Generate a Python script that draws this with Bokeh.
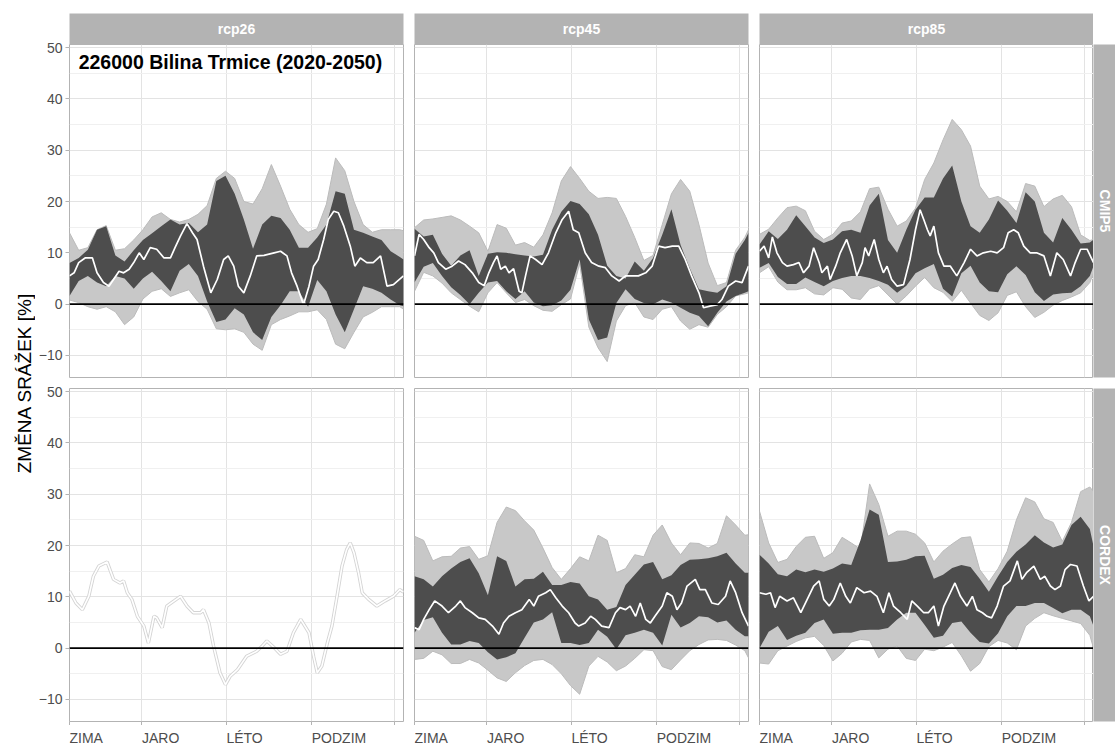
from math import pi
from bokeh.plotting import figure
from bokeh.models import Range1d, FixedTicker, LinearAxis, Span, Label, Spacer, ColumnDataSource
from bokeh.layouts import row, column
from bokeh.embed import file_html
from bokeh.resources import INLINE
from bokeh.core.properties import value

# ---------------- data ----------------
# day of year of the ribbon samples
days = [1, 11, 21, 31, 41, 51, 61, 71, 81, 91, 101, 111, 121, 131, 141, 151, 161, 171, 181,
        191, 201, 211, 221, 231, 241, 251, 261, 271, 281, 291, 301, 311, 321, 331, 341, 351, 361, 365]

season_ticks = [1, 80, 172, 265, 355]
season_labels = ["ZIMA", "JARO", "LÉTO", "PODZIM", ""]
y_ticks = [-10, 0, 10, 20, 30, 40, 50]
y_minor = [-15, -5, 5, 15, 25, 35, 45]

scenarios = ["rcp26", "rcp45", "rcp85"]
ensembles = ["CMIP5", "CORDEX"]
title_text = "226000 Bilina Trmice (2020-2050)"
y_title = "ZMĚNA SRÁŽEK [%]"

# --- CMIP5 rcp26
cmip5_rcp26_max = [13.9, 10.5, 11.0, 14.5, 15.3, 10.5, 10.8, 12.5, 14.5, 17.0, 17.8, 16.5, 16.0, 16.5, 17.5, 19.2, 24.5, 25.9, 24.5,
                   20.0, 19.5, 22.5, 27.2, 23.0, 18.5, 15.5, 14.0, 14.7, 19.5, 28.5, 26.0, 20.0, 15.5, 14.0, 14.5, 14.5, 14.5, 14.3]
cmip5_rcp26_q75 = [8.0, 9.0, 10.6, 14.5, 15.2, 9.5, 8.3, 10.5, 12.5, 13.8, 15.2, 16.5, 15.5, 15.8, 14.0, 15.5, 24.0, 25.0, 21.5,
                   16.5, 10.8, 15.5, 17.2, 16.8, 14.5, 11.0, 11.0, 13.0, 15.5, 22.0, 21.5, 14.5, 13.9, 13.2, 12.5, 10.3, 9.2, 8.7]
cmip5_rcp26_q25 = [1.6, 4.5, 5.5, 4.2, 3.5, 5.5, 5.0, 3.0, 5.0, 6.3, 4.5, 2.5, 6.5, 7.8, 5.5, 0.5, -3.5, -3.0, -0.8,
                   -2.0, -5.5, -7.0, -2.5, -0.2, 2.5, 2.5, -0.5, 4.7, 2.5, -2.0, -5.5, -1.0, 3.5, 3.0, 2.2, 0.9, -0.2, -0.4]
cmip5_rcp26_min = [0.8, 0.3, -0.5, -1.0, -0.5, -1.5, -4.0, -2.5, 1.0, 2.5, 3.0, 1.5, 2.2, 2.8, 0.5, -1.0, -4.8, -5.0, -4.8,
                   -5.5, -7.8, -9.0, -4.0, -3.0, -2.3, -1.5, -1.5, -1.1, -3.0, -7.8, -8.7, -5.5, -2.5, -1.6, -0.5, -0.5, -0.5, -1.0]
cmip5_rcp26_med_days = [1, 6, 11, 18, 26, 31, 38, 44, 49, 55, 60, 66, 71, 77, 82, 89, 96, 104, 111, 116, 122, 129, 135, 140, 147,
                        155, 162, 169, 174, 180, 185, 191, 198, 205, 213, 224, 231, 238, 243, 249, 256, 262, 267, 272, 278, 283,
                        289, 294, 300, 307, 312, 318, 325, 332, 340, 347, 354, 365]
cmip5_rcp26_med = [5.5, 6.1, 8.1, 9.0, 9.0, 6.1, 4.2, 3.5, 4.8, 6.4, 6.1, 6.8, 8.1, 10.0, 8.7, 11.0, 10.7, 9.0, 9.0, 11.0, 13.3,
                   15.7, 13.9, 12.6, 7.4, 2.2, 4.8, 8.7, 9.4, 7.4, 3.5, 2.2, 5.5, 9.4, 9.5, 10.0, 10.3, 9.4, 6.1, 3.5, -0.1, 3.5,
                   7.4, 8.7, 12.6, 16.5, 18.1, 17.8, 15.2, 11.3, 7.4, 9.0, 8.1, 8.1, 9.4, 3.5, 3.8, 5.5]

# --- CMIP5 rcp45
cmip5_rcp45_max = [14.9, 16.4, 16.6, 16.9, 17.2, 16.4, 15.2, 13.9, 10.3, 15.5, 14.8, 11.5, 12.0, 11.1, 13.5, 17.8, 24.0, 26.8, 24.5,
                   22.0, 20.6, 20.8, 20.6, 17.1, 13.0, 8.5, 9.5, 15.5, 21.5, 24.3, 22.0, 15.5, 8.0, 3.6, 4.2, 10.5, 13.0, 14.5]
cmip5_rcp45_q75 = [14.7, 13.2, 13.5, 9.8, 7.5, 9.5, 10.5, 5.5, 9.8, 10.1, 10.0, 9.7, 9.5, 9.3, 9.6, 14.5, 18.0, 20.1, 19.5,
                   17.5, 13.5, 7.5, 5.5, 5.0, 8.3, 6.5, 9.0, 13.5, 18.5, 11.5, 7.0, 2.9, 2.5, 2.2, 3.5, 9.8, 12.5, 13.9]
cmip5_rcp45_q25 = [4.2, 7.3, 8.0, 5.5, 3.3, 1.8, 0.0, 2.2, 4.2, 4.5, 2.5, 1.0, 2.5, 0.3, -0.4, -0.2, 0.7, 2.8, 8.7,
                   -3.0, -7.0, -6.5, 0.2, 2.9, 1.0, 0.2, 0.0, 0.9, 0.3, -0.7, -1.7, -2.3, -4.3, -1.7, 0.5, 1.6, 2.2, 2.5]
cmip5_rcp45_min = [2.5, 6.2, 5.5, 4.1, 2.2, 0.9, -0.4, -1.5, 2.2, 4.2, 2.2, 0.3, 0.9, -0.3, -1.2, -1.4, -0.1, 1.0, 7.9,
                   -4.5, -8.5, -11.2, -3.3, -0.3, 0.3, -2.5, -3.0, -1.0, -0.5, -3.3, -4.9, -4.0, -4.5, -2.0, -0.5, 1.6, 2.0, 2.2]
cmip5_rcp45_med_days = [1, 6, 11, 17, 22, 27, 35, 42, 49, 56, 64, 71, 77, 82, 87, 91, 95, 100, 104, 109, 115, 118, 122, 127, 133,
                        140, 147, 155, 162, 169, 174, 180, 187, 194, 202, 209, 216, 224, 231, 238, 245, 253, 260, 267, 274, 282,
                        289, 296, 303, 311, 316, 323, 331, 336, 343, 351, 358, 365]
cmip5_rcp45_med = [9.4, 13.6, 12.6, 11.0, 10.0, 8.1, 6.8, 7.4, 8.4, 7.7, 6.1, 4.2, 3.6, 6.1, 8.1, 9.4, 6.8, 7.4, 6.1, 6.9, 2.5,
                   2.2, 5.5, 9.4, 8.7, 7.7, 10.0, 13.9, 16.5, 18.1, 14.5, 13.9, 10.0, 8.1, 7.4, 7.1, 5.5, 4.5, 5.5, 5.5, 5.5,
                   6.1, 7.4, 11.3, 11.0, 11.3, 11.3, 8.7, 5.5, 2.2, -0.7, -0.4, -0.1, 0.9, 3.5, 4.5, 4.2, 7.4]

# --- CMIP5 rcp85
cmip5_rcp85_max = [13.6, 14.6, 16.8, 18.8, 19.1, 18.2, 14.2, 12.6, 13.6, 15.8, 16.2, 18.0, 22.5, 22.8, 18.5, 15.2, 16.2, 18.7, 24.3,
                   27.5, 32.0, 36.0, 34.0, 30.8, 23.0, 20.5, 21.0, 20.0, 18.0, 23.5, 23.0, 19.0, 20.5, 21.2, 19.0, 13.5, 12.4, 12.6]
cmip5_rcp85_q75 = [11.6, 14.2, 12.7, 14.5, 17.3, 15.2, 13.0, 11.9, 12.6, 14.2, 14.5, 13.9, 19.2, 21.5, 12.5, 10.0, 14.5, 18.4, 20.8,
                   20.8, 24.5, 27.0, 20.0, 15.2, 13.9, 16.5, 20.2, 18.2, 15.8, 21.8, 20.0, 13.9, 12.0, 16.8, 14.5, 11.8, 12.0, 12.6]
cmip5_rcp85_q25 = [7.1, 8.0, 5.3, 3.9, 3.9, 5.2, 4.3, 3.5, 4.5, 5.1, 5.5, 5.5, 5.1, 4.5, 3.8, 2.2, 3.6, 6.0, 7.0,
                   7.8, 3.0, 1.5, 6.0, 7.5, 4.2, 2.5, 2.3, 5.8, 7.4, 5.7, 2.3, 0.6, 1.9, 2.1, 2.2, 3.5, 5.5, 7.4]
cmip5_rcp85_min = [6.1, 7.3, 4.3, 2.8, 2.8, 3.2, 2.0, 1.8, 3.2, 2.9, 1.2, 0.9, 3.0, 3.6, 1.8, 0.0, 1.6, 3.5, 5.2,
                   3.2, 2.3, 0.5, 2.7, 0.2, -2.2, -3.2, -1.7, 1.7, 2.4, -0.5, -2.6, -1.6, -0.2, 0.7, 1.4, 2.2, 4.2, 6.1]
cmip5_rcp85_med_days = [1, 6, 11, 15, 20, 26, 31, 38, 44, 49, 55, 60, 66, 69, 75, 78, 84, 89, 96, 102, 107, 113, 116, 120, 126,
                        131, 136, 140, 145, 151, 158, 165, 171, 176, 180, 184, 187, 191, 196, 202, 209, 216, 224, 231, 238, 245,
                        253, 260, 267, 272, 278, 283, 289, 296, 303, 311, 318, 325, 332, 340, 345, 351, 358, 365]
cmip5_rcp85_med = [10.3, 11.3, 9.0, 13.1, 10.0, 8.1, 7.4, 7.7, 8.1, 6.1, 7.4, 11.0, 8.1, 6.1, 7.4, 4.8, 7.4, 10.0, 12.6, 9.4,
                   5.5, 8.1, 11.0, 9.4, 12.6, 8.7, 6.1, 7.4, 4.8, 3.5, 3.8, 8.7, 14.5, 18.4, 16.5, 14.5, 13.3, 15.2, 10.0, 7.4,
                   7.4, 5.5, 8.1, 10.7, 9.4, 10.0, 10.3, 10.0, 11.0, 13.9, 14.5, 13.9, 11.3, 10.0, 10.0, 9.4, 5.5, 10.0, 8.7,
                   5.5, 8.1, 10.7, 10.7, 8.1]

# --- CORDEX rcp26 (one series only)
cordex_rcp26_med_days = [1, 8, 15, 22, 27, 33, 42, 49, 56, 60, 64, 69, 75, 82, 87, 93, 96, 102, 107, 115, 122, 129, 136, 144,
                         147, 153, 158, 165, 171, 176, 184, 194, 205, 211, 216, 224, 231, 238, 245, 253, 262, 267, 271, 276,
                         282, 287, 292, 298, 303, 307, 311, 316, 320, 327, 336, 345, 354, 361, 365]
cordex_rcp26_med = [11.1, 8.8, 7.5, 10.1, 14.0, 16.0, 16.8, 13.4, 12.7, 13.1, 10.8, 9.5, 6.2, 4.3, 1.0, 6.2, 5.9, 4.0, 8.2,
                    9.2, 10.1, 8.2, 6.9, 6.9, 7.5, 4.9, 0.4, -4.8, -7.1, -5.5, -4.2, -1.6, -0.6, 0.4, 1.4, 0.1, -1.2, -0.6,
                    3.0, 5.6, 3.0, -1.6, -4.8, -3.5, 1.0, 4.3, 9.5, 16.0, 19.2, 20.5, 18.6, 14.7, 10.8, 9.5, 8.2, 9.2, 10.1,
                    11.4, 10.9]

# --- CORDEX rcp45
cordex_rcp45_max = [21.8, 21.0, 17.0, 17.8, 17.9, 19.5, 19.8, 17.3, 18.0, 24.5, 27.5, 26.8, 24.8, 23.0, 19.5, 15.7, 13.4, 15.5, 17.8,
                    17.0, 22.0, 21.0, 14.7, 15.5, 18.2, 17.8, 22.0, 24.0, 20.5, 18.2, 20.5, 20.4, 19.5, 20.4, 25.8, 24.0, 22.0, 22.1]
cordex_rcp45_q75 = [14.0, 13.4, 12.0, 14.0, 15.5, 16.8, 17.5, 14.6, 10.3, 17.9, 17.0, 12.0, 13.4, 13.5, 14.9, 12.3, 12.3, 12.9, 12.6,
                    10.1, 9.5, 7.5, 8.0, 12.3, 14.3, 16.3, 16.8, 13.4, 14.2, 16.2, 17.2, 17.3, 17.5, 17.9, 18.6, 16.5, 14.7, 14.7]
cordex_rcp45_q25 = [3.0, 5.5, 6.0, 3.0, 0.7, 0.7, 1.4, 1.0, -0.8, -2.2, -1.8, -1.0, 2.0, 5.0, 5.6, 7.0, 1.0, 1.0, 0.6,
                    1.0, 3.6, 2.2, -0.2, 2.5, 3.0, 3.6, 3.0, 0.5, 6.5, 4.0, 4.9, 6.2, 6.0, 5.0, 5.4, 3.6, 2.3, 2.3]
cordex_rcp45_min = [-2.2, -2.0, -0.6, -1.3, -3.0, -3.0, -2.2, -2.9, -4.3, -5.8, -6.5, -4.8, -3.4, -2.4, -2.2, -3.2, -5.0, -7.3, -9.0,
                    -3.5, -1.6, -2.7, -4.4, -3.5, -2.0, -0.3, -0.5, -3.6, -4.2, -2.3, -0.5, 0.7, 1.6, 1.7, 1.5, 0.6, -0.5, -1.9]
cordex_rcp45_med_days = [1, 6, 11, 17, 23, 31, 38, 46, 51, 56, 64, 71, 78, 86, 93, 98, 104, 111, 118, 126, 131, 136, 144, 149,
                         155, 162, 169, 176, 180, 187, 193, 198, 205, 213, 220, 225, 231, 236, 242, 247, 253, 258, 263, 271,
                         276, 282, 287, 292, 298, 307, 312, 318, 325, 332, 340, 345, 351, 358, 365]
cordex_rcp45_med = [4.0, 3.6, 5.6, 7.5, 9.2, 8.2, 6.9, 8.2, 9.2, 7.9, 6.9, 5.9, 5.6, 4.3, 2.7, 4.9, 6.2, 6.9, 7.5, 9.5, 8.2,
                    10.1, 10.8, 11.4, 9.8, 8.2, 6.9, 4.9, 4.3, 4.9, 6.2, 5.6, 4.3, 4.0, 6.9, 7.9, 7.5, 8.2, 6.2, 8.8, 5.6,
                    4.9, 6.2, 8.2, 10.8, 10.1, 7.5, 8.8, 12.1, 13.4, 11.4, 11.4, 8.8, 8.5, 10.1, 13.1, 10.8, 6.9, 4.3]

# --- CORDEX rcp85
cordex_rcp85_max = [26.7, 20.5, 16.7, 17.3, 19.8, 21.6, 21.8, 17.5, 18.6, 21.6, 20.5, 19.3, 32.0, 28.0, 21.8, 22.8, 22.8, 22.2, 20.5,
                    16.8, 18.9, 20.3, 21.5, 21.7, 15.3, 12.9, 15.5, 18.9, 25.0, 29.3, 28.5, 25.2, 24.5, 20.8, 24.5, 30.5, 31.4, 30.5]
cordex_rcp85_q75 = [18.2, 16.5, 14.4, 14.0, 15.3, 14.8, 15.3, 14.9, 15.5, 16.5, 16.2, 21.0, 27.0, 26.0, 16.8, 16.9, 17.2, 17.9, 18.0,
                    13.5, 14.3, 15.6, 16.2, 15.8, 13.5, 11.0, 14.0, 16.8, 18.8, 20.2, 22.0, 20.6, 19.6, 20.2, 24.0, 25.6, 23.2, 19.9]
cordex_rcp85_q25 = [0.0, 3.2, 4.3, 1.6, 2.4, 3.0, 4.9, 5.6, 2.8, 3.0, 3.0, 3.5, 3.6, 3.6, 3.9, 5.6, 6.9, 6.9, 4.5,
                    2.0, 2.4, 4.9, 5.2, 3.0, 1.2, 0.9, 2.9, 6.2, 8.2, 8.2, 8.8, 8.8, 7.8, 6.8, 7.5, 7.5, 6.2, 4.3]
cordex_rcp85_min = [-2.9, -3.1, -0.5, 0.4, 1.3, 2.0, 2.3, 0.5, -2.5, -1.0, 1.2, 1.7, 1.5, -1.9, -0.2, 0.4, -2.0, -2.4, -0.2,
                    -0.5, 0.2, 1.1, -1.5, -4.5, -3.0, 0.3, 1.5, 1.0, -0.3, 4.3, 5.8, 6.9, 6.3, 5.8, 5.3, 4.8, 2.5, 0.0]
cordex_rcp85_med_days = [1, 8, 13, 18, 23, 31, 38, 46, 53, 60, 66, 71, 77, 82, 89, 95, 100, 107, 115, 122, 129, 136, 142, 147,
                         155, 162, 167, 173, 180, 185, 191, 196, 202, 209, 214, 220, 227, 233, 238, 244, 249, 254, 260, 267,
                         274, 282, 287, 292, 300, 307, 312, 318, 323, 329, 334, 340, 347, 354, 360, 365]
cordex_rcp85_med = [10.8, 10.5, 10.8, 7.9, 10.1, 9.2, 9.8, 6.9, 9.5, 12.1, 13.1, 9.5, 8.2, 9.5, 12.7, 10.1, 8.8, 11.8, 10.8,
                    11.1, 10.1, 6.9, 10.8, 8.2, 6.9, 5.6, 9.2, 8.2, 6.9, 6.9, 8.2, 4.3, 8.2, 10.8, 12.7, 10.1, 8.2, 10.1, 7.5,
                    6.9, 6.2, 5.9, 8.2, 12.1, 13.1, 17.0, 13.4, 14.7, 16.0, 13.4, 14.0, 12.1, 11.4, 12.1, 15.3, 16.3, 16.0,
                    12.1, 9.2, 10.1]

# ---------------- style / geometry ----------------
FONT = "Liberation Sans"
STRIP = "#B3B3B3"
LIGHT = "#C8C8C8"
LIGHT_EDGE = "#BBBBBB"
DARK = "#4D4D4D"
TICKC = "#4D4D4D"
PW, PH = 334, 333       # panel frame size
GAP = 11
STRIP_TOP, STRIP_H = 13, 31
TICK = 4                # tick band under the lower panels
XLAB_H = 21             # band with the season labels
RSTRIP = 22
YLAB_W, YAX_W = 35, 34
XR = (1, 365)
YR = (-14.3, 50.6)


def blank(width, height, xr, yr, ml=0, mr=0, mt=0, mb=0):
    f = figure(width=width, height=height, x_range=Range1d(*xr), y_range=Range1d(*yr),
               x_axis_location=None, y_axis_location=None, toolbar_location=None,
               output_backend="svg", min_border_left=ml, min_border_right=mr,
               min_border_top=mt, min_border_bottom=mb)
    f.xgrid.visible = False
    f.ygrid.visible = False
    f.outline_line_color = None
    f.border_fill_color = "white"
    f.background_fill_color = "white"
    return f


def style_axis(ax):
    ax.axis_line_color = None
    ax.major_tick_line_color = STRIP
    ax.major_tick_out = 4
    ax.major_tick_in = 0
    ax.minor_tick_line_color = None
    ax.major_label_text_font = FONT
    ax.major_label_text_font_size = "14px"
    ax.major_label_text_color = TICKC


def panel(width, height, mr, mb, bottom_ticks=False):
    p = figure(width=width, height=height, x_range=Range1d(*XR), y_range=Range1d(*YR),
               x_axis_location=None, y_axis_location=None, toolbar_location=None,
               output_backend="svg", min_border_left=0, min_border_right=mr,
               min_border_top=0, min_border_bottom=mb)
    p.outline_line_color = STRIP
    p.outline_line_width = 1
    p.background_fill_color = "white"
    p.border_fill_color = "white"
    p.xgrid.ticker = FixedTicker(ticks=season_ticks)
    p.ygrid.ticker = FixedTicker(ticks=y_ticks, minor_ticks=y_minor)
    p.xgrid.grid_line_color = "#E3E3E3"
    p.ygrid.grid_line_color = "#E3E3E3"
    p.ygrid.minor_grid_line_color = "#F0F0F0"
    if bottom_ticks:
        ax = LinearAxis(ticker=FixedTicker(ticks=season_ticks),
                        major_label_overrides={t: "" for t in season_ticks})
        style_axis(ax)
        ax.major_label_standoff = 0
        p.add_layout(ax, "below")
    return p


def xlabel_fig(width, mr):
    # season names, left-aligned at their tick (as in the original)
    f = blank(width, XLAB_H, XR, (0, 1), mr=mr)
    src = ColumnDataSource(dict(x=season_ticks, text=season_labels))
    f.text(x="x", y=1, text="text", source=src, text_align="left", text_baseline="top",
           y_offset=4, text_font=value(FONT), text_font_size="14px", text_color=TICKC)
    return f


def yaxis_fig(height, mt, mb):
    f = blank(YAX_W, height, (0, 1), YR, ml=YAX_W - 1, mt=mt, mb=mb)
    ax = LinearAxis(ticker=FixedTicker(ticks=y_ticks))
    style_axis(ax)
    ax.major_label_standoff = 3
    f.add_layout(ax, "left")
    return f


def draw(p, mn, q25, q75, mx, med_days, med):
    p.varea(x=days, y1=mn, y2=mx, fill_color=LIGHT)
    p.line(days, mx, line_color=LIGHT_EDGE, line_width=1)
    p.line(days, mn, line_color=LIGHT_EDGE, line_width=1)
    p.varea(x=days, y1=q25, y2=q75, fill_color=DARK)
    p.add_layout(Span(location=0, dimension="width", line_color="black", line_width=1.6))
    p.line(med_days, med, line_color="white", line_width=1.7)


def strip(label, width, height, mr=0, mt=0, mb=0, vertical=False):
    s = blank(width, height, (0, 1), (0, 1), mr=mr, mt=mt, mb=mb)
    s.background_fill_color = STRIP
    s.add_layout(Label(x=0.5, y=0.5, text=label, text_align="center", text_baseline="middle",
                       angle=(-pi / 2 if vertical else 0), text_color="white", text_font=FONT,
                       text_font_style="bold", text_font_size="14px"))
    return s


# ---------------- panels ----------------
H1 = PH + GAP
H2 = PH + TICK
p11 = panel(PW + GAP, H1, GAP, GAP)
p12 = panel(PW + GAP, H1, GAP, GAP)
p13 = panel(PW, H1, 0, GAP)
p21 = panel(PW + GAP, H2, GAP, TICK, bottom_ticks=True)
p22 = panel(PW + GAP, H2, GAP, TICK, bottom_ticks=True)
p23 = panel(PW, H2, 0, TICK, bottom_ticks=True)

draw(p11, cmip5_rcp26_min, cmip5_rcp26_q25, cmip5_rcp26_q75, cmip5_rcp26_max, cmip5_rcp26_med_days, cmip5_rcp26_med)
draw(p12, cmip5_rcp45_min, cmip5_rcp45_q25, cmip5_rcp45_q75, cmip5_rcp45_max, cmip5_rcp45_med_days, cmip5_rcp45_med)
draw(p13, cmip5_rcp85_min, cmip5_rcp85_q25, cmip5_rcp85_q75, cmip5_rcp85_max, cmip5_rcp85_med_days, cmip5_rcp85_med)
draw(p22, cordex_rcp45_min, cordex_rcp45_q25, cordex_rcp45_q75, cordex_rcp45_max, cordex_rcp45_med_days, cordex_rcp45_med)
draw(p23, cordex_rcp85_min, cordex_rcp85_q25, cordex_rcp85_q75, cordex_rcp85_max, cordex_rcp85_med_days, cordex_rcp85_med)

# rcp26 / CORDEX: a single series only (degenerate ribbon)
p21.line(cordex_rcp26_med_days, cordex_rcp26_med, line_color="#D4D4D4", line_width=3.4)
p21.add_layout(Span(location=0, dimension="width", line_color="black", line_width=1.6))
p21.line(cordex_rcp26_med_days, cordex_rcp26_med, line_color="white", line_width=1.6)

p11.add_layout(Label(x=11, y=47.2, text=title_text, text_align="left", text_baseline="middle",
                     text_font=FONT, text_font_style="bold", text_font_size="19.5px", text_color="black"))

# ---------------- left side: title + y axes ----------------
TOTAL_H = STRIP_TOP + STRIP_H + H1 + H2 + XLAB_H
AXB = TICK + XLAB_H
ylab = blank(YLAB_W, TOTAL_H, (0, 1), (0, 1), mt=STRIP_TOP + STRIP_H, mb=AXB)
ylab.add_layout(Label(x=0.68, y=0.5, text=y_title, text_align="center", text_baseline="middle",
                      angle=pi / 2, text_color="black", text_font=FONT, text_font_size="19px"))

split = STRIP_TOP + STRIP_H + PH + 6
yax1 = yaxis_fig(split, STRIP_TOP + STRIP_H, 6)
yax2 = yaxis_fig(TOTAL_H - split, GAP - 6, AXB)

strips = row(strip(scenarios[0], PW + GAP, STRIP_TOP + STRIP_H, mr=GAP, mt=STRIP_TOP),
             strip(scenarios[1], PW + GAP, STRIP_TOP + STRIP_H, mr=GAP, mt=STRIP_TOP),
             strip(scenarios[2], PW, STRIP_TOP + STRIP_H, mt=STRIP_TOP),
             Spacer(width=RSTRIP, height=STRIP_TOP + STRIP_H), spacing=0)
row1 = row(p11, p12, p13, strip(ensembles[0], RSTRIP, H1, mb=GAP, vertical=True), spacing=0)
row2 = row(p21, p22, p23, strip(ensembles[1], RSTRIP, H2, mb=TICK, vertical=True), spacing=0)
row3 = row(xlabel_fig(PW + GAP, GAP), xlabel_fig(PW + GAP, GAP), xlabel_fig(PW, 0),
           Spacer(width=RSTRIP, height=XLAB_H), spacing=0)

layout = row(ylab, column(yax1, yax2, spacing=0), column(strips, row1, row2, row3, spacing=0), spacing=0)

open("out.html", "w").write(file_html(layout, INLINE))
